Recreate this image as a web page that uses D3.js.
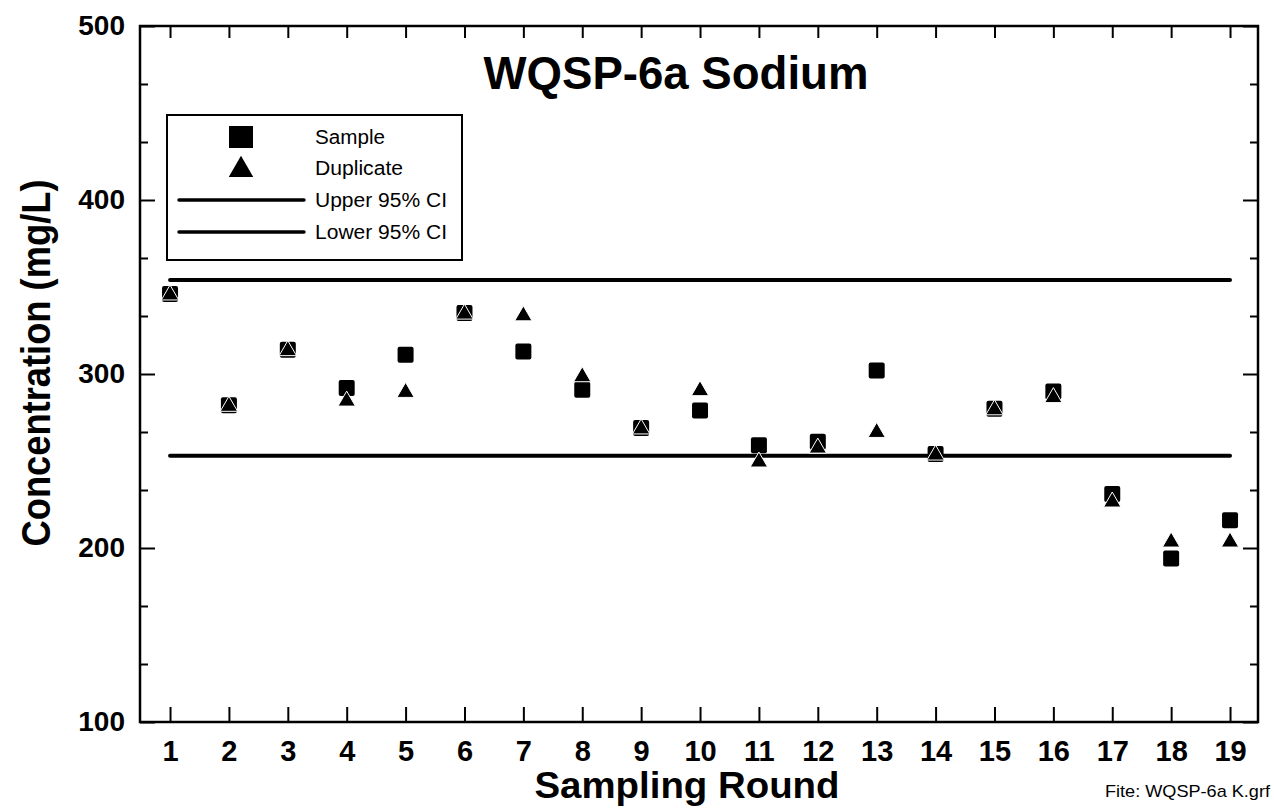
<!DOCTYPE html>
<html>
<head>
<meta charset="utf-8">
<script src="https://cdn.jsdelivr.net/npm/d3@7"></script>
<style>
  body { margin: 0; background: #fff; }
  svg { display: block; font-family: "Liberation Sans", Arial, sans-serif; }
</style>
</head>
<body>
<div id="chart"></div>
<script>
const rounds = [1, 2, 3, 4, 5, 6, 7, 8, 9, 10, 11, 12, 13, 14, 15, 16, 17, 18, 19];
const sample = [346, 282, 314, 292, 311, 335, 313, 291, 269, 279, 259, 261, 302, 254, 280, 290, 231, 194, 216];
const duplicate = [346, 282, 314, 285, 290, 335, 334, 299, 269, 291, 250, 258, 267, 254, 280, 287, 227, 204, 204];
const upperCI = 354;
const lowerCI = 253;
const yMajor = [100, 200, 300, 400, 500];
const yMinor = [133.33, 166.67, 233.33, 266.67, 333.33, 366.67, 433.33, 466.67];
const legendItems = ["Sample", "Duplicate", "Upper 95% CI", "Lower 95% CI"];
const legendTextWidths = [70, 88, 132, 132];

const W = 1274, H = 809;
const frame = {left: 140, right: 1258, top: 26, bottom: 722};

const svg = d3.select("#chart").append("svg")
    .attr("width", W)
    .attr("height", H);

const x = d3.scaleLinear()
    .domain([0.49, 19.475])
    .range([frame.left, frame.right]);

const y = d3.scaleLinear()
    .domain([100, 500])
    .range([frame.bottom, frame.top]);

// axes, ticks pointing inward
svg.append("g")
    .attr("transform", `translate(${frame.left},0)`)
    .call(d3.axisLeft(y).tickValues(yMajor).tickSize(-15).tickPadding(15))
    .call(g => g.select(".domain").remove())
    .call(g => g.selectAll("text")
        .style("font-size", "28px").style("font-weight", "bold").attr("fill", "#000"));

svg.append("g")
    .attr("transform", `translate(${frame.left},0)`)
    .call(d3.axisLeft(y).tickValues(yMinor).tickSize(-8).tickFormat(""))
    .call(g => g.select(".domain").remove());

svg.append("g")
    .attr("transform", `translate(${frame.right},0)`)
    .call(d3.axisRight(y).tickValues(yMajor).tickSize(-15).tickFormat(""))
    .call(g => g.select(".domain").remove());

svg.append("g")
    .attr("transform", `translate(${frame.right},0)`)
    .call(d3.axisRight(y).tickValues(yMinor).tickSize(-8).tickFormat(""))
    .call(g => g.select(".domain").remove());

svg.append("g")
    .attr("transform", `translate(0,${frame.bottom})`)
    .call(d3.axisBottom(x).tickValues(rounds).tickSize(-15).tickPadding(18))
    .call(g => g.select(".domain").remove())
    .call(g => g.selectAll("text")
        .style("font-size", "29px").style("font-weight", "bold").attr("fill", "#000"));

svg.append("g")
    .attr("transform", `translate(0,${frame.top})`)
    .call(d3.axisTop(x).tickValues(rounds).tickSize(-12).tickFormat(""))
    .call(g => g.select(".domain").remove());

svg.selectAll(".tick line").attr("stroke", "#000").attr("stroke-width", 2);

svg.append("rect")
    .attr("x", frame.left)
    .attr("y", frame.top)
    .attr("width", frame.right - frame.left)
    .attr("height", frame.bottom - frame.top)
    .attr("fill", "none")
    .attr("stroke", "#000")
    .attr("stroke-width", 2.5);

// confidence interval lines
svg.selectAll(".ci")
    .data([upperCI, lowerCI])
    .enter()
    .append("line")
    .attr("x1", x(rounds[0]))
    .attr("x2", x(rounds[rounds.length - 1]))
    .attr("y1", d => y(d))
    .attr("y2", d => y(d))
    .attr("stroke", "#000")
    .attr("stroke-width", 4)
    .attr("stroke-linecap", "round");

// sample squares
const sq = 16;
svg.selectAll(".sample")
    .data(rounds)
    .enter()
    .append("rect")
    .attr("x", (d, i) => x(d) - sq / 2)
    .attr("y", (d, i) => y(sample[i]) - sq / 2)
    .attr("width", sq)
    .attr("height", sq)
    .attr("rx", 2)
    .attr("fill", "#000");

// duplicate triangles, white edge shows where they sit over a square
const tri = d3.symbol().type(d3.symbolTriangle).size(130);
svg.selectAll(".dup")
    .data(rounds)
    .enter()
    .append("path")
    .attr("d", tri)
    .attr("transform", (d, i) => `translate(${x(d)},${y(duplicate[i]) + 1})`)
    .attr("fill", "#000")
    .attr("stroke", "#fff")
    .attr("stroke-width", 1);

// title
svg.append("text")
    .attr("x", 676)
    .attr("y", 89)
    .attr("text-anchor", "middle")
    .attr("textLength", 385)
    .attr("lengthAdjust", "spacingAndGlyphs")
    .style("font-size", "46px")
    .style("font-weight", "bold")
    .text("WQSP-6a Sodium");

// axis titles
svg.append("text")
    .attr("transform", `translate(50,${363}) rotate(-90)`)
    .attr("text-anchor", "middle")
    .attr("textLength", 367)
    .attr("lengthAdjust", "spacingAndGlyphs")
    .style("font-size", "40px")
    .style("font-weight", "bold")
    .text("Concentration (mg/L)");

svg.append("text")
    .attr("x", 687)
    .attr("y", 798)
    .attr("text-anchor", "middle")
    .attr("textLength", 305)
    .attr("lengthAdjust", "spacingAndGlyphs")
    .style("font-size", "36px")
    .style("font-weight", "bold")
    .text("Sampling Round");

svg.append("text")
    .attr("x", 1270)
    .attr("y", 797)
    .attr("text-anchor", "end")
    .attr("textLength", 165)
    .attr("lengthAdjust", "spacingAndGlyphs")
    .style("font-size", "17px")
    .text("Fite: WQSP-6a K.grf");

// legend
const legend = svg.append("g");
legend.append("rect")
    .attr("x", 167)
    .attr("y", 115)
    .attr("width", 295)
    .attr("height", 145)
    .attr("fill", "#fff")
    .attr("stroke", "#000")
    .attr("stroke-width", 2);

const rowY = [137, 168, 200, 232];
legend.selectAll(".ltext")
    .data(legendItems)
    .enter()
    .append("text")
    .attr("x", 315)
    .attr("y", (d, i) => rowY[i] + 7)
    .attr("textLength", (d, i) => legendTextWidths[i])
    .attr("lengthAdjust", "spacingAndGlyphs")
    .style("font-size", "20px")
    .text(d => d);

legend.append("rect")
    .attr("x", 229)
    .attr("y", rowY[0] - 11)
    .attr("width", 24)
    .attr("height", 22)
    .attr("fill", "#000");

legend.append("path")
    .attr("d", d3.symbol().type(d3.symbolTriangle).size(260))
    .attr("transform", `translate(241,${rowY[1] + 2})`)
    .attr("fill", "#000");

legend.selectAll(".lline")
    .data(rowY.slice(2))
    .enter()
    .append("line")
    .attr("x1", 179)
    .attr("x2", 304)
    .attr("y1", d => d)
    .attr("y2", d => d)
    .attr("stroke", "#000")
    .attr("stroke-width", 3.5)
    .attr("stroke-linecap", "round");
</script>
</body>
</html>
